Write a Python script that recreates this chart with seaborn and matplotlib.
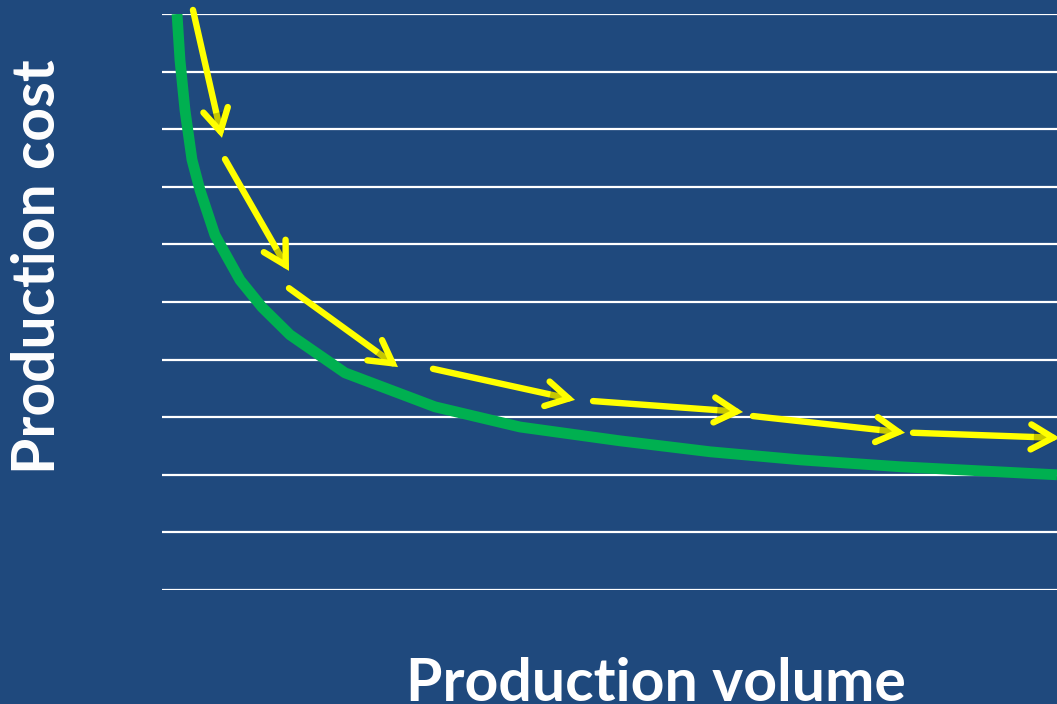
import matplotlib
matplotlib.use("Agg")
import matplotlib.pyplot as plt
import matplotlib.patheffects as pe
import seaborn as sns
import pandas as pd

# Unit cost falling as volume grows (experience curve)
volume = [0.168, 0.201, 0.257, 0.335, 0.425, 0.592, 0.872, 1.117, 1.430,
          2.045, 3.050, 4.000, 5.117, 6.123, 7.128, 8.246, 10.0]
cost = [10.0, 9.20, 8.33, 7.47, 6.94, 6.16, 5.38, 4.91, 4.43,
        3.77, 3.18, 2.83, 2.59, 2.40, 2.26, 2.14, 2.00]

# Trend arrows: start and end points
arrow_x0 = [0.346, 0.704, 1.419, 3.028, 4.816, 6.603, 8.391]
arrow_y0 = [10.07, 7.48, 5.24, 3.84, 3.28, 3.02, 2.73]
arrow_x1 = [0.670, 1.419, 2.637, 4.615, 6.492, 8.302, 10.03]
arrow_y1 = [7.85, 5.54, 3.87, 3.30, 3.09, 2.73, 2.64]

grid_levels = list(range(0, 11))

BG = "#1F497D"
GREEN = "#00B050"
YELLOW = "#FFFF00"

sns.set_style("white", {"axes.facecolor": BG, "figure.facecolor": BG})
plt.rcParams["font.family"] = ["Lato", "DejaVu Sans"]

W, H = 1057, 704
fig = plt.figure(figsize=(W / 100, H / 100), dpi=100)
left, right, top, bottom = 162, 1057, 14, 590
ax = fig.add_axes([left / W, 1 - bottom / H, (right - left) / W, (bottom - top) / H])
ax.set_facecolor(BG)

for g in grid_levels:
    ax.axhline(g, color="white", lw=1.6, zorder=1)

df = pd.DataFrame({"volume": volume, "cost": cost})
sns.lineplot(data=df, x="volume", y="cost", color=GREEN, lw=7.8, ax=ax,
             sort=False, zorder=3, solid_capstyle="butt", solid_joinstyle="round")

shadow = [pe.SimplePatchShadow(offset=(2, -2), shadow_rgbFace="black", alpha=0.22),
          pe.Normal()]
for x0, y0, x1, y1 in zip(arrow_x0, arrow_y0, arrow_x1, arrow_y1):
    ax.annotate("", xy=(x1, y1), xytext=(x0, y0), xycoords="data",
                arrowprops=dict(arrowstyle="->,head_length=0.8,head_width=0.45",
                                color=YELLOW, lw=4.6, shrinkA=0, shrinkB=0,
                                mutation_scale=20, capstyle="round",
                                joinstyle="miter", path_effects=shadow),
                annotation_clip=False, zorder=4)

ax.set_xlim(0, 10)
ax.set_ylim(0, 10)
ax.set_xticks([])
ax.set_yticks([])
ax.set_xlabel("")
ax.set_ylabel("")
for s in ax.spines.values():
    s.set_visible(False)

fig.text(655.5 / W, 1 - 701 / H, "Production volume", color="white",
         fontsize=42.5, fontweight="bold", ha="center", va="baseline")
fig.text(38 / W, 1 - 267 / H, "Production cost", color="white", rotation=90,
         fontsize=42.3, fontweight="bold", ha="center", va="center")

fig.savefig("out.png", dpi=100, facecolor=BG)
